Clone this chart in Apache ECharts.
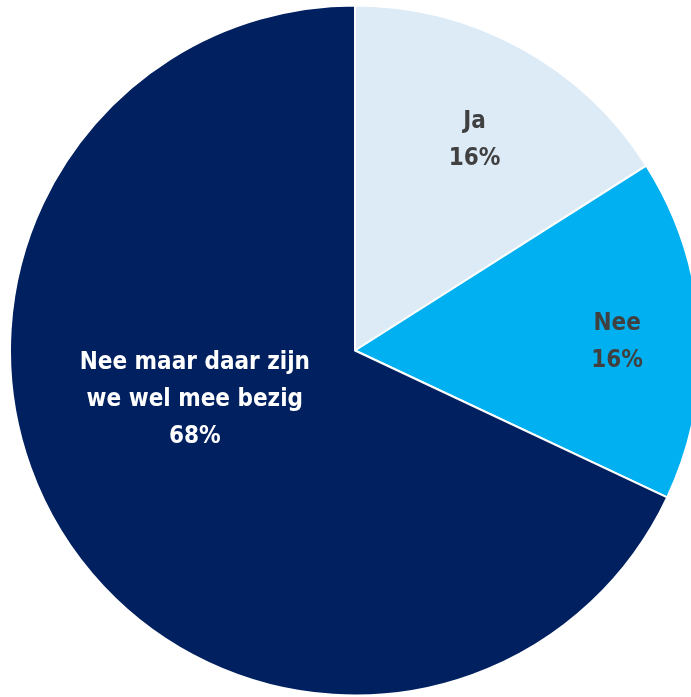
<!DOCTYPE html>
<html><head><meta charset="utf-8">
<script src="https://cdn.jsdelivr.net/npm/echarts@6/dist/echarts.min.js"></script>
<style>html,body{margin:0;padding:0;background:#fff}#c{width:691px;height:697px}</style>
</head><body><div id="c"></div>
<script>
const categories = ['Ja', 'Nee', 'Nee maar daar zijn\nwe wel mee bezig'];
const values = [16, 16, 68];
const sliceColors = ['#DDEBF7', '#00B0F0', '#002060'];
const labelColors = ['#404040', '#404040', '#FFFFFF'];
const labelShift = [[35, -56], [87, 3], [-12, -45]];

const chart = echarts.init(document.getElementById('c'), null, {renderer: 'canvas'});
chart.setOption({
  animation: false,
  series: [{
    type: 'pie',
    center: [355, 350.5],
    radius: [0, 345],
    startAngle: 90,
    clockwise: true,
    avoidLabelOverlap: false,
    itemStyle: {borderColor: '#FFFFFF', borderWidth: 2},
    label: {
      show: true,
      position: 'inside',
      formatter: p => p.name + '\n' + p.value + '%',
      fontFamily: '"DejaVu Sans Condensed", sans-serif',
      fontWeight: 'bold',
      fontSize: 24,
      lineHeight: 37,
      align: 'center'
    },
    labelLine: {show: false},
    labelLayout: function (params) {
      const s = labelShift[params.dataIndex];
      return {dx: s[0], dy: s[1]};
    },
    data: categories.map((c, i) => ({
      name: c, value: values[i],
      itemStyle: {color: sliceColors[i]},
      label: {color: labelColors[i]}
    }))
  }]
});
</script></body></html>
